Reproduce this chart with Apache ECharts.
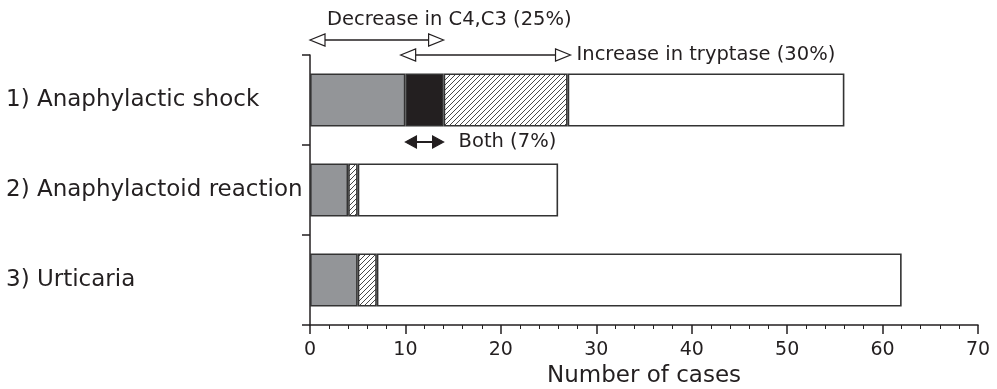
<!DOCTYPE html>
<html>
<head>
<meta charset="utf-8">
<script src="https://cdn.jsdelivr.net/npm/echarts@6/dist/echarts.min.js"></script>
<style>
html,body{margin:0;padding:0;background:#fff;}
#chart{width:997px;height:389px;}
</style>
</head>
<body>
<div id="chart"></div>
<script>
// ---- data ----
var categories = ['1) Anaphylactic shock', '2) Anaphylactoid reaction', '3) Urticaria'];
var decreaseOnly = [10, 4, 5];     // gray: decrease in C4,C3 only
var bothMarkers  = [4, null, null]; // black: both
var increaseOnly = [13, 1, 2];     // hatched: increase in tryptase only
var neither      = [29, 21, 55];   // white: remainder
var xTicks = {min: 0, max: 70, interval: 10};
var annotations = [
  {text: 'Decrease in C4,C3 (25%)', from: 0, to: 14},
  {text: 'Increase in tryptase (30%)', from: 9.5, to: 27.3},
  {text: 'Both (7%)', from: 10, to: 14}
];

var INK = '#231f20';
var FONT = 'DejaVu Sans';

function hatch() {
  var c = document.createElement('canvas');
  var s = 5;
  c.width = s; c.height = s;
  var g = c.getContext('2d');
  g.fillStyle = '#fff';
  g.fillRect(0, 0, s, s);
  g.strokeStyle = '#333';
  g.lineWidth = 0.9;
  g.beginPath();
  g.moveTo(-1, s + 1); g.lineTo(s + 1, -1);
  g.moveTo(-1, 1); g.lineTo(1, -1);
  g.moveTo(s - 1, s + 1); g.lineTo(s + 1, s - 1);
  g.stroke();
  return c;
}

var chart = echarts.init(document.getElementById('chart'), null, {renderer: 'canvas'});
var border = {borderColor: '#333', borderWidth: 1.6};
function seg(name, data, color) {
  return {
    name: name, type: 'bar', stack: 'total', data: data, barWidth: 53,
    itemStyle: Object.assign({color: color}, border),
    emphasis: {disabled: true}, animation: false
  };
}
chart.setOption({
  animation: false,
  grid: {left: 310, right: 19, top: 55, bottom: 64, containLabel: false, outerBoundsMode: 'none'},
  xAxis: {
    type: 'value', min: xTicks.min, max: xTicks.max, interval: xTicks.interval,
    name: 'Number of cases', nameLocation: 'middle', nameGap: 40,
    nameTextStyle: {fontFamily: FONT, fontSize: 23, color: INK},
    axisLine: {show: true, lineStyle: {color: INK, width: 1.5}},
    axisTick: {show: true, length: 9, lineStyle: {color: INK, width: 1.5}},
    minorTick: {show: true, splitNumber: 5, length: 4, lineStyle: {color: INK, width: 1}},
    splitLine: {show: false},
    axisLabel: {fontFamily: FONT, fontSize: 19, color: INK, margin: 16}
  },
  yAxis: {
    type: 'category', data: categories, inverse: true,
    axisLine: {show: true, lineStyle: {color: INK, width: 1.5}},
    axisTick: {show: true, length: 8, lineStyle: {color: INK, width: 1.5}},
    axisLabel: {fontFamily: FONT, fontSize: 23, color: INK, align: 'left', margin: 304}
  },
  series: [
    seg('Decrease in C4,C3', decreaseOnly, '#939598'),
    seg('Both', bothMarkers, '#231f20'),
    seg('Increase in tryptase', increaseOnly, {image: hatch(), repeat: 'repeat'}),
    seg('Neither', neither, '#ffffff')
  ]
});

// ---- annotation arrows, positioned through the chart's scales ----
function px(v) { return chart.convertToPixel({xAxisIndex: 0}, v); }
var rowY = chart.convertToPixel({yAxisIndex: 0}, categories[0]);

function head(tipX, y, dir, filled, len, half) {
  return {
    type: 'polygon', z: 100,
    shape: {points: [[tipX, y], [tipX - dir * len, y - half], [tipX - dir * len, y + half]]},
    style: {fill: filled ? INK : '#fff', stroke: INK, lineWidth: 1.2}
  };
}
function arrow(x1, x2, y, filled, len, half) {
  return [
    {type: 'line', z: 99, shape: {x1: x1 + len, y1: y, x2: x2 - len, y2: y},
     style: {stroke: INK, lineWidth: filled ? 2 : 1.3}},
    head(x1, y, -1, filled, len, half),
    head(x2, y, 1, filled, len, half)
  ];
}
function label(text, x, y) {
  return {type: 'text', z: 100, x: x, y: y,
    style: {text: text, fill: INK, font: '19.5px "' + FONT + '"', textVerticalAlign: 'middle', textAlign: 'left'}};
}

var a0 = annotations[0], a1 = annotations[1], a2 = annotations[2];
var els = [];
var yDec = rowY - 60, yInc = rowY - 45, yBoth = rowY + 42;
els = els.concat(arrow(px(a0.from), px(a0.to), yDec, false, 15, 6));
els.push(label(a0.text, px(a0.from) + 17, rowY - 80));
els = els.concat(arrow(px(a1.from), px(a1.to), yInc, false, 15, 6));
els.push(label(a1.text, px(a1.to) + 6, yInc));
els = els.concat(arrow(px(a2.from), px(a2.to), yBoth, true, 11, 6));
els.push(label(a2.text, px(a2.to) + 15, yBoth));
chart.setOption({graphic: {elements: els}});
</script>
</body>
</html>
